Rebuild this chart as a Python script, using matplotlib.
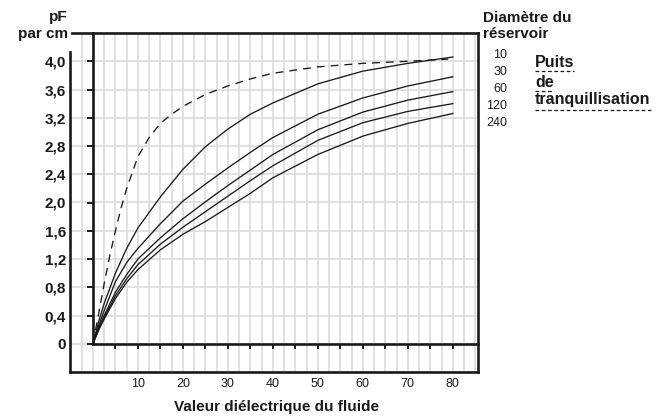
import numpy as np
import matplotlib
matplotlib.use('Agg')
import matplotlib.pyplot as plt
from matplotlib.ticker import FuncFormatter
from matplotlib.lines import Line2D

plt.rcParams['font.family'] = ['Liberation Sans', 'DejaVu Sans']

x_pts = [0, 1.25, 2.5, 5, 7.5, 10, 15, 20, 25, 30, 35, 40, 50, 60, 70, 80]
d10 = [0, 0.31, 0.57, 1.00, 1.35, 1.64, 2.08, 2.47, 2.79, 3.04, 3.25, 3.41, 3.68, 3.86, 3.97, 4.06]
d30 = [0, 0.25, 0.47, 0.88, 1.15, 1.35, 1.70, 2.02, 2.26, 2.49, 2.71, 2.92, 3.25, 3.48, 3.65, 3.78]
d60 = [0, 0.22, 0.40, 0.73, 0.98, 1.20, 1.50, 1.77, 2.01, 2.24, 2.46, 2.68, 3.03, 3.28, 3.45, 3.57]
d120 = [0, 0.20, 0.37, 0.68, 0.92, 1.12, 1.41, 1.65, 1.87, 2.09, 2.31, 2.52, 2.88, 3.13, 3.29, 3.40]
d240 = [0, 0.19, 0.35, 0.64, 0.87, 1.05, 1.33, 1.55, 1.73, 1.93, 2.13, 2.35, 2.68, 2.94, 3.12, 3.26]
curves = [d10, d30, d60, d120, d240]

# puits de tranquillisation (pointillés)
x_puits = [0, 1.25, 2.5, 3.75, 5, 6.25, 7.5, 10, 12.5, 15, 17.5, 20, 25, 30, 35, 40, 50, 60, 70, 79]
puits = [0, 0.42, 0.85, 1.25, 1.60, 1.92, 2.20, 2.65, 2.92, 3.12, 3.25, 3.36, 3.53, 3.65, 3.75,
         3.83, 3.92, 3.97, 4.00, 4.03]

diametres = ['10', '30', '60', '120', '240']
puits_mots = ['Puits', 'de', 'tranquillisation']
x_ticks = list(range(5, 81, 5))
y_ticks = [0, 0.4, 0.8, 1.2, 1.6, 2.0, 2.4, 2.8, 3.2, 3.6, 4.0]

W, H = 666, 416
fig = plt.figure(figsize=(W / 100, H / 100), dpi=100)
ax = fig.add_axes([70 / W, 1 - 372 / H, (478 - 70) / W, (372 - 33) / H])

xmin, xmax = -5.1, 85.6
ymin, ymax = -0.4, 4.4
ax.set_xlim(xmin, xmax)
ax.set_ylim(ymin, ymax)

ink = '#1a1a1a'
grid_c = '#d9d9d9'

# grille
for gx in np.arange(-2.5, 85.1, 2.5):
    ax.axvline(gx, color=grid_c, lw=1.1, zorder=0)
for gy in np.arange(-0.4, 4.41, 0.4):
    ax.axhline(gy, color=grid_c, lw=1.1, zorder=0)

# courbes
for c in curves:
    ax.plot(x_pts, c, color=ink, lw=0.95, zorder=3)
ax.plot(x_puits, puits, color=ink, lw=0.95, ls=(0, (6, 4.5)), zorder=3)

# axes intérieurs
for s in ['top', 'right']:
    ax.spines[s].set_visible(False)
ax.spines['left'].set_position(('data', 0))
ax.spines['bottom'].set_position(('data', 0))
ax.spines['left'].set_bounds(0, ymax)
ax.spines['bottom'].set_bounds(0, xmax)
for s in ['left', 'bottom']:
    ax.spines[s].set_linewidth(1.9)
    ax.spines[s].set_color(ink)
    ax.spines[s].set_zorder(4)

# cadre extérieur
fr = dict(color=ink, lw=1.9, clip_on=False, zorder=5, solid_capstyle='projecting')
ax.plot([xmin + 0.4, xmax], [ymax, ymax], **fr)
ax.plot([xmax, xmax], [ymax, ymin], **fr)
ax.plot([xmax, xmin], [ymin, ymin], **fr)
ax.plot([xmin, xmin], [ymin, 4.13], **fr)

ax.set_xticks(x_ticks)
ax.xaxis.set_major_formatter(FuncFormatter(lambda v, p: f'{int(v)}' if int(v) % 10 == 0 else ''))
ax.set_yticks(y_ticks)
ax.set_yticklabels(['0' if t == 0 else f'{t:.1f}'.replace('.', ',') for t in y_ticks])

ax.tick_params(axis='x', direction='out', length=3.6, width=1.4, color=ink, pad=21,
               labelsize=9, labelcolor=ink)
ax.tick_params(axis='y', direction='out', length=4.3, width=1.4, color=ink, pad=15,
               labelsize=11, labelcolor=ink)
for lab in ax.get_yticklabels():
    lab.set_fontweight('bold')

def fx(px):
    return px / W

def fy(py):
    return 1 - py / H

fig.text(fx(68), fy(10.5), 'pF\npar cm', ha='right', va='top', ma='right',
         fontsize=11, fontweight='bold', color=ink, linespacing=1.25)
fig.text(fx(483), fy(10.5), 'Diamètre du\nréservoir', ha='left', va='top',
         fontsize=11, fontweight='bold', color=ink, linespacing=1.25)
fig.text(fx(276), fy(407), 'Valeur diélectrique du fluide', ha='center', va='center',
         fontsize=11, fontweight='bold', color=ink)

for i, d in enumerate(diametres):
    fig.text(fx(507), fy(55 + 17 * i), d, ha='right', va='center', fontsize=9, color=ink)

baselines = [67, 87, 104]
underlines = [70.5, 90.5, 109.5]
fig.canvas.draw()
rend = fig.canvas.get_renderer()
for mot, b, u in zip(puits_mots, baselines, underlines):
    t = fig.text(fx(535), fy(b), mot, ha='left', va='baseline', fontsize=11.5,
                 fontweight='bold', color=ink)
    bb = t.get_window_extent(rend)
    fig.add_artist(Line2D([bb.x0 / W, bb.x1 / W], [fy(u), fy(u)], transform=fig.transFigure,
                          color=ink, lw=0.9, ls=(0, (3, 2))))

fig.savefig('out.png', dpi=100)
